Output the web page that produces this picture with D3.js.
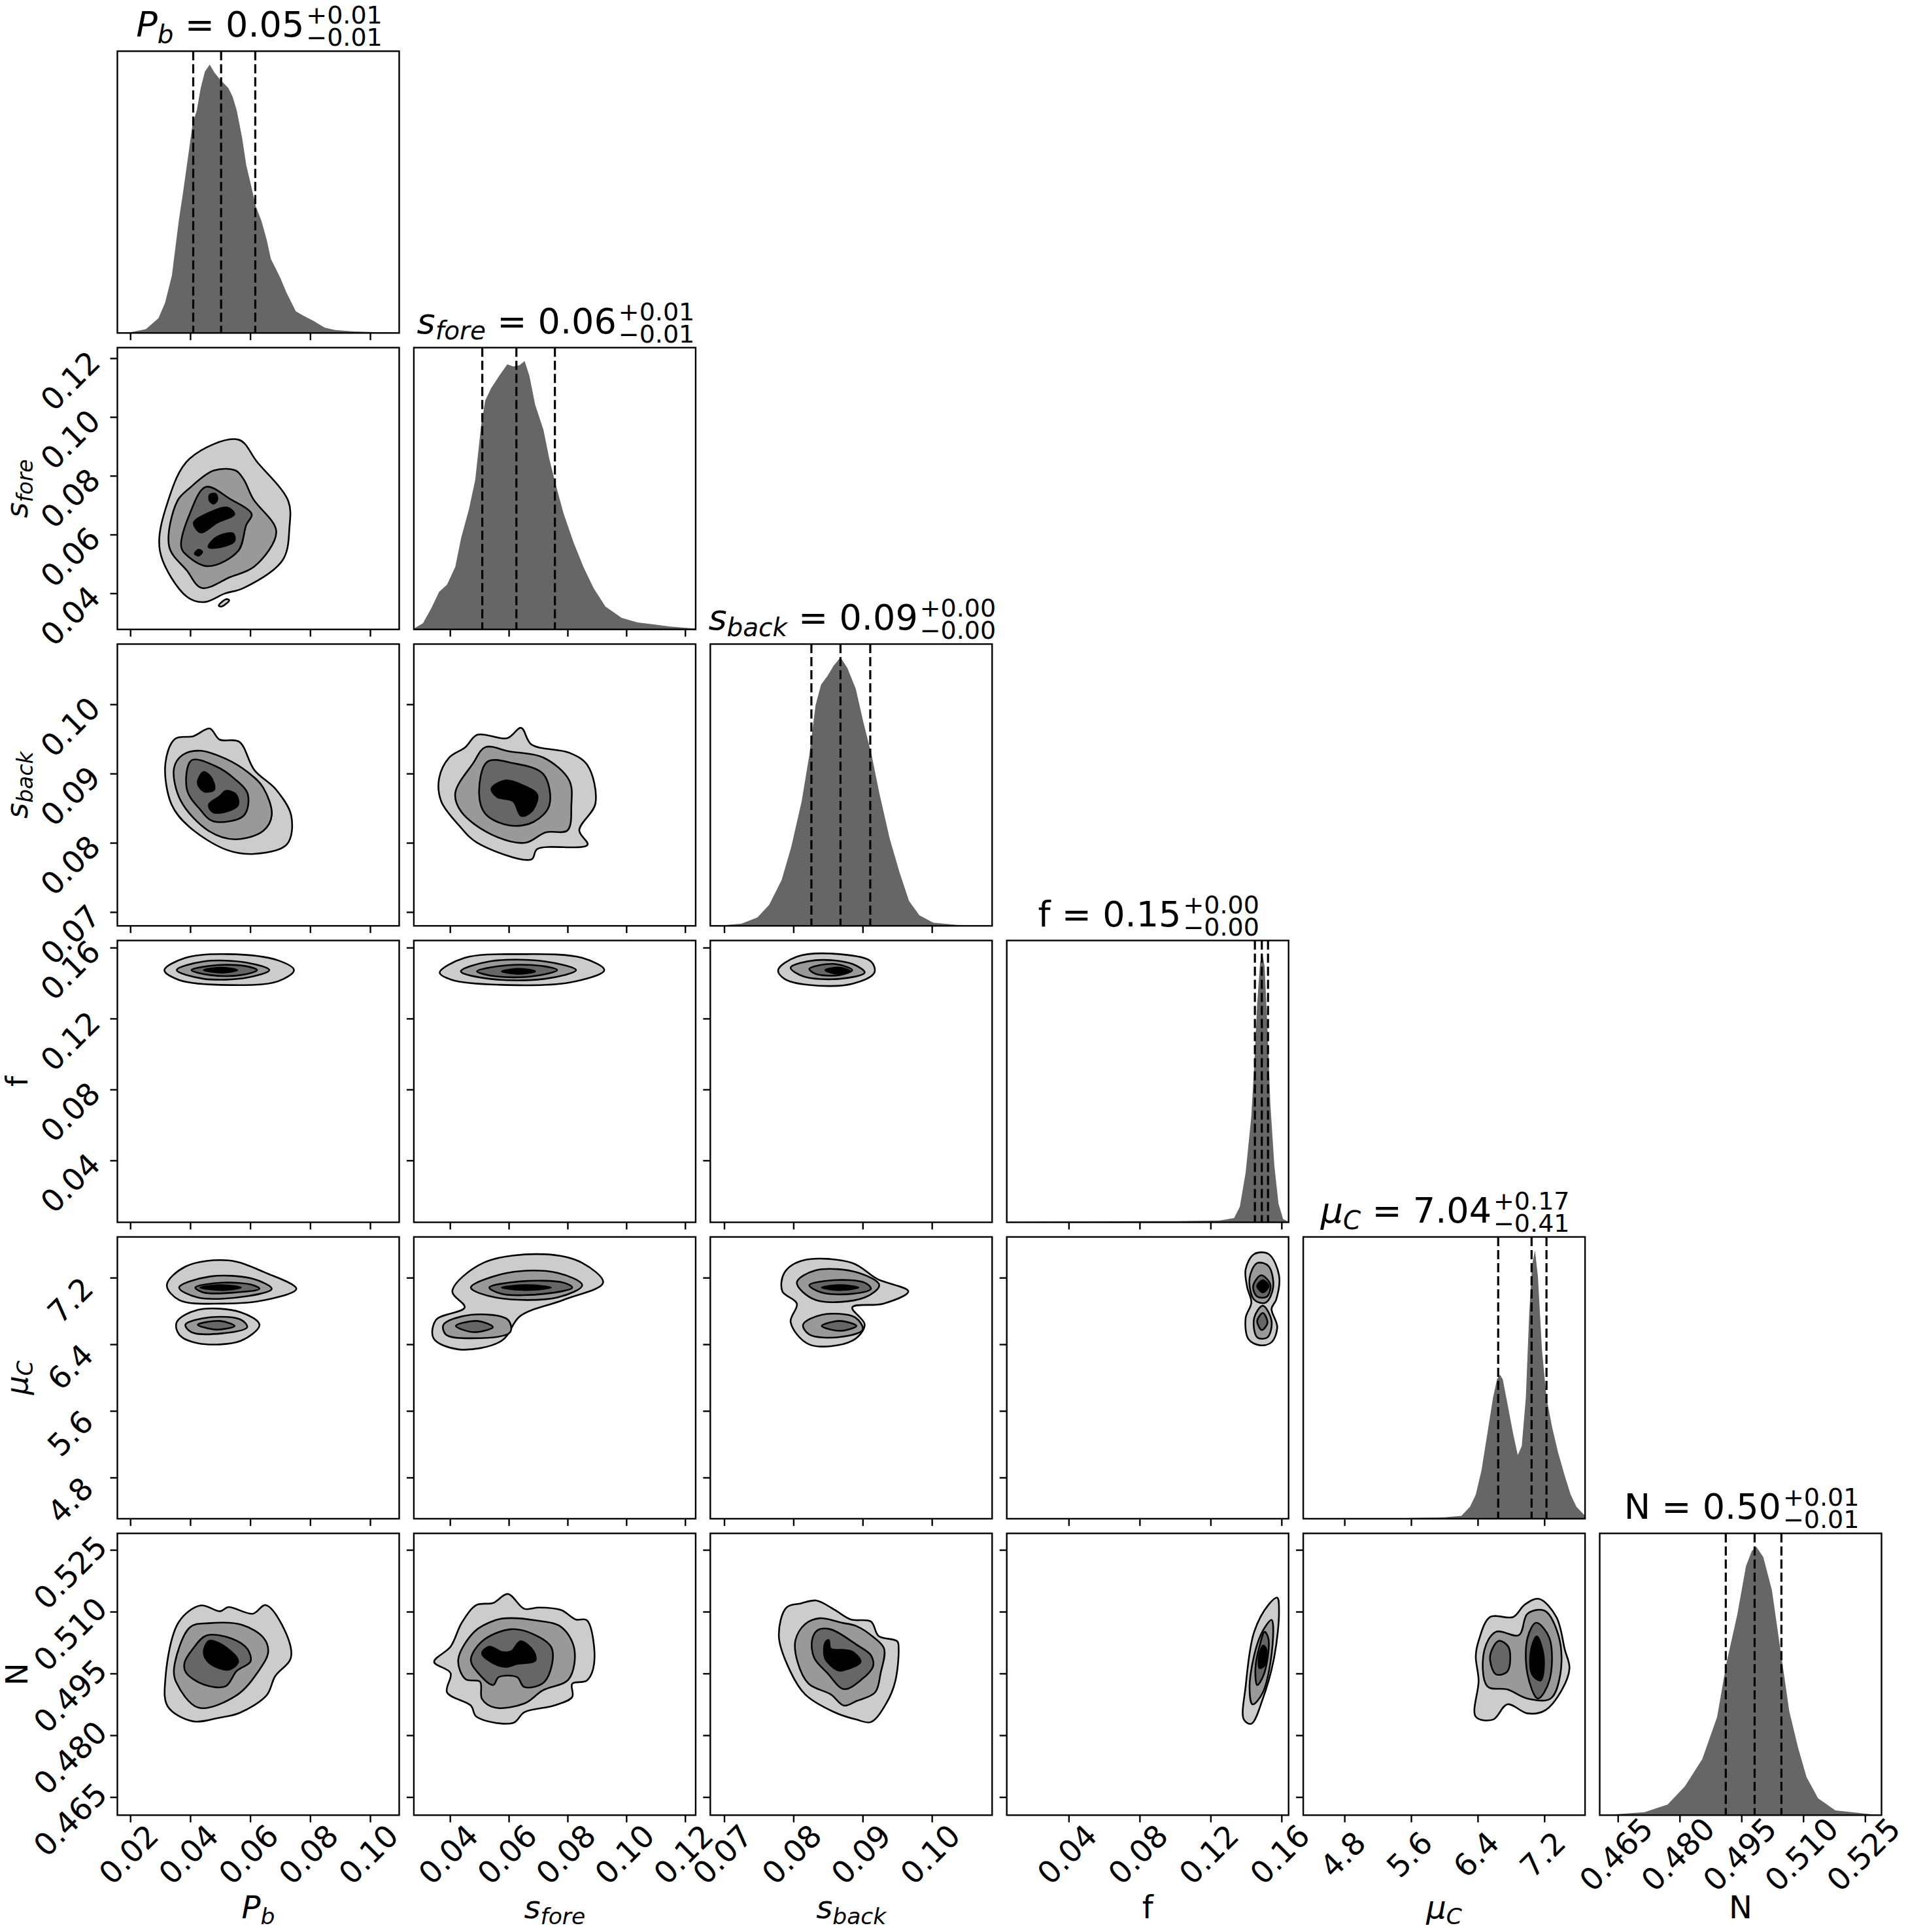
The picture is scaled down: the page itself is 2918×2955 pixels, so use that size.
<!DOCTYPE html>
<html><head><meta charset="utf-8">
<script src="https://cdn.jsdelivr.net/npm/d3@7"></script>
<style>body{margin:0;background:#fff}</style>
</head><body>
<script>
// ---------- parameters ----------
const paramNames = [["P","b"],["s","fore"],["s","back"],["f",""],["μ","C"],["N",""]];
const paramItalic = [true,true,true,false,true,false];
const paramDomains = [[0.0157,0.1097],[0.0277,0.1236],[0.0680,0.1087],[0.0051,0.1640],[4.305,7.689],[0.4606,0.5290]];
const paramTicks = [[0.02,0.04,0.06,0.08,0.10],[0.04,0.06,0.08,0.10,0.12],[0.07,0.08,0.09,0.10],[0.04,0.08,0.12,0.16],[4.8,5.6,6.4,7.2],[0.465,0.480,0.495,0.510,0.525]];
const tickDecimals = [2,2,2,2,1,3];
const titleValues = ["0.05","0.06","0.09","0.15","7.04","0.50"];
const titlePlus = ["+0.01","+0.01","+0.00","+0.00","+0.17","+0.01"];
const titleMinus = ["−0.01","−0.01","−0.00","−0.00","−0.41","−0.01"];
const quantiles = [[0.0410,0.0503,0.0617],[0.0510,0.0626,0.0757],[0.0826,0.0868,0.0911],[0.1450,0.1489,0.1524],[6.646,7.047,7.226],[0.4912,0.4982,0.5047]];

// ---------- 1D marginals (x, height as % of peak) ----------
const histPbX=[0.0157,0.0197,0.0252,0.0294,0.0316,0.0339,0.0362,0.0376,0.0394,0.0408,0.0422,0.0435,0.0449,0.0465,0.0481,0.0500,0.0527,0.0541,0.0555,0.0573,0.0587,0.0600,0.0619,0.0637,0.0655,0.0669,0.0683,0.0701,0.0720,0.0752,0.0775,0.0811,0.0848,0.0884,0.0939,0.1013,0.1097];
const histPbY=[0,0.2,1.4,5.5,11.2,21.5,42,52.3,66.6,78,83,91.3,97.4,100,97,94.4,91.3,88.2,83,72.8,62.5,56.4,47.1,42,34.8,27.6,24.5,20.4,15.3,8.1,6.6,4.5,2,1.1,0.6,0.3,0];
const histSforeX=[0.0277,0.0308,0.0336,0.0363,0.0390,0.0418,0.0438,0.0465,0.0486,0.0506,0.0520,0.0540,0.0568,0.0595,0.0615,0.0636,0.0654,0.0670,0.0690,0.0718,0.0738,0.0759,0.0786,0.0820,0.0854,0.0888,0.0929,0.0984,0.1038,0.1093,0.1147,0.1202,0.1236];
const histSforeY=[0.3,2.3,7.8,14,16.7,23.3,34.1,45,55.8,76,85.3,89.9,94.6,98.8,98,98.4,100,94.6,83.7,74.4,63.6,54.3,43.4,32.6,23.3,15.5,8.5,4.3,2.6,1.9,1.1,0.6,0.3];
const histSbackX=[0.0680,0.0699,0.0725,0.0748,0.0765,0.0783,0.0797,0.0812,0.0823,0.0832,0.0840,0.0849,0.0858,0.0868,0.0878,0.0890,0.0901,0.0913,0.0924,0.0939,0.0953,0.0967,0.0982,0.1002,0.1037,0.1087];
const histSbackY=[0,0.2,0.8,3.1,7.8,17.1,29.5,46.5,63.6,82.2,89.9,93,96.9,100,96.1,88.4,76,63.6,49.6,32.6,20.2,9.3,3.9,1.2,0.3,0];
const histFX=[0.0051,0.0343,0.0830,0.0992,0.1252,0.1333,0.1365,0.1398,0.1430,0.1446,0.1463,0.1479,0.1492,0.1505,0.1521,0.1537,0.1560,0.1583,0.1609,0.1640];
const histFY=[0.1,0.3,0.4,0.4,0.7,1.6,5.8,18.6,39.5,58.1,81.4,96.5,100,95.3,72.1,44.2,20.9,7,1.2,0.2];
const histMuX=[4.305,5.514,5.997,6.204,6.308,6.377,6.446,6.515,6.584,6.632,6.667,6.701,6.757,6.826,6.881,6.929,6.978,7.019,7.054,7.088,7.123,7.171,7.226,7.295,7.364,7.447,7.516,7.585,7.689];
const histMuY=[0,0.2,0.5,1.1,4.5,9,18.1,31.6,45.1,51.9,53.7,51.9,42.9,31.6,23.7,27.1,45.1,76.7,94.8,100,90.3,63.2,45.1,33.9,24.8,15.8,9,4.5,1.1];
const histNX=[0.4606,0.4631,0.4715,0.4771,0.4813,0.4855,0.4891,0.4914,0.4940,0.4961,0.4975,0.4986,0.5003,0.5024,0.5045,0.5066,0.5087,0.5108,0.5136,0.5178,0.5262,0.5290];
const histNY=[0,0.2,1.1,4,10.8,20.9,36.6,56.9,74.8,92.8,98.4,100,96.2,83.8,61.3,38.9,25.4,14.2,6.3,1.8,0.4,0];
const histX=[histPbX,histSforeX,histSbackX,histFX,histMuX,histNX];
const histY=[histPbY,histSforeY,histSbackY,histFY,histMuY,histNY];

// ---------- 2D contours: levels (outer->inner), each a list of closed polygons in data units ----------
const contPbSfore=[
 [[[.0560,.0923],[.0623,.0847],[.0727,.0714],[.0731,.0625],[.0709,.0514],[.0578,.0418],[.0515,.0399],[.0447,.0370],[.0389,.0388],[.0299,.0544],[.0326,.0714],[.0398,.0858]],[[.0495,.0358],[.0520,.0380],[.0530,.0376],[.0505,.0355]]],
 [[[.0479,.0818],[.0551,.0818],[.0578,.0788],[.0610,.0721],[.0687,.0610],[.0615,.0492],[.0533,.0455],[.0438,.0418],[.0389,.0477],[.0330,.0558],[.0357,.0714],[.0398,.0758]]],
 [[[.0452,.0762],[.0533,.0721],[.0605,.0669],[.0587,.0633],[.0560,.0544],[.0461,.0492],[.0389,.0529],[.0370,.0558],[.0398,.0669]]],
 [[[.0465,.0735],[.0485,.0738],[.0490,.0718],[.0478,.0705],[.0465,.0715]],[[.0412,.0640],[.0452,.0669],[.0524,.0692],[.0547,.0669],[.0489,.0640],[.0435,.0607]],[[.0461,.0558],[.0489,.0592],[.0543,.0603],[.0547,.0577],[.0489,.0555]],[[.0415,.0535],[.0428,.0548],[.0440,.0541],[.0428,.0528]]]
];
const contPbSback=[
 [[[.0317,.0914],[.0349,.0950],[.0411,.0954],[.0465,.0965],[.0498,.0949],[.0563,.0946],[.0614,.0905],[.0686,.0877],[.0737,.0839],[.0723,.0798],[.0614,.0784],[.0520,.0790],[.0397,.0823],[.0338,.0855]]],
 [[[.0346,.0908],[.0375,.0927],[.0433,.0933],[.0520,.0921],[.0592,.0902],[.0643,.0880],[.0672,.0840],[.0643,.0817],[.0549,.0805],[.0462,.0817],[.0368,.0861]]],
 [[[.0404,.0919],[.0483,.0911],[.0549,.0892],[.0592,.0870],[.0578,.0839],[.0477,.0831],[.0433,.0848],[.0389,.0877]]],
 [[[.0425,.0886],[.0444,.0902],[.0469,.0895],[.0480,.0877],[.0447,.0874]],[[.0462,.0855],[.0498,.0867],[.0520,.0875],[.0552,.0870],[.0560,.0855],[.0534,.0847],[.0476,.0844]]]
];
const contPbF=[
 [[[.0314,.1473],[.0384,.1542],[.0528,.1563],[.0693,.1528],[.0746,.1473],[.0693,.1410],[.0528,.1389],[.0363,.1417]]],
 [[[.0355,.1473],[.0445,.1522],[.0590,.1515],[.0664,.1473],[.0590,.1431],[.0445,.1424]]],
 [[[.0404,.1473],[.0487,.1501],[.0590,.1494],[.0623,.1473],[.0569,.1445],[.0466,.1445]]],
 [[[.0445,.1473],[.0507,.1487],[.0557,.1473],[.0507,.1459]]]
];
const contPbMu=[
 [[[.0322,7.110],[.0384,7.333],[.0528,7.407],[.0651,7.259],[.0754,7.066],[.0651,6.932],[.0507,6.888],[.0363,6.932]],[[.0355,6.665],[.0425,6.813],[.0569,6.784],[.0631,6.635],[.0569,6.442],[.0425,6.413],[.0363,6.517]]],
 [[[.0363,7.081],[.0466,7.214],[.0610,7.185],[.0672,7.066],[.0590,6.977],[.0425,6.962]],[[.0384,6.635],[.0466,6.724],[.0569,6.695],[.0590,6.606],[.0507,6.531],[.0404,6.546]]],
 [[[.0417,7.081],[.0507,7.140],[.0610,7.110],[.0631,7.066],[.0548,7.021],[.0445,7.021]],[[.0425,6.635],[.0499,6.680],[.0548,6.620],[.0487,6.576]]],
 [[[.0433,7.081],[.0507,7.110],[.0569,7.081],[.0507,7.051]]]
];
const contPbN=[
 [[[.0317,.4936],[.0362,.5075],[.0435,.5115],[.0500,.5101],[.0527,.5111],[.0609,.5095],[.0651,.5116],[.0706,.5068],[.0736,.4989],[.0683,.4943],[.0655,.4897],[.0564,.4854],[.0500,.4843],[.0408,.4834],[.0325,.4870]]],
 [[[.0346,.4962],[.0399,.5062],[.0463,.5072],[.0573,.5068],[.0646,.5035],[.0660,.5002],[.0628,.4956],[.0555,.4897],[.0427,.4867],[.0353,.4929]]],
 [[[.0381,.4976],[.0408,.5009],[.0454,.5042],[.0537,.5035],[.0591,.5009],[.0601,.4979],[.0555,.4956],[.0518,.4919],[.0445,.4923],[.0385,.4953]]],
 [[[.0445,.5002],[.0463,.5029],[.0500,.5022],[.0555,.4989],[.0559,.4976],[.0527,.4959],[.0463,.4976]]]
];
const contSforeSback=[
 [[[.0363,.0893],[.0397,.0923],[.0452,.0938],[.0493,.0956],[.0595,.0951],[.0642,.0966],[.0677,.0942],[.0806,.0930],[.0868,.0912],[.0895,.0857],[.0840,.0818],[.0868,.0797],[.0697,.0791],[.0677,.0776],[.0493,.0800],[.0431,.0825],[.0370,.0860]]],
 [[[.0418,.0872],[.0479,.0915],[.0520,.0938],[.0602,.0932],[.0718,.0923],[.0806,.0890],[.0813,.0854],[.0800,.0818],[.0725,.0815],[.0656,.0800],[.0541,.0812],[.0438,.0845]]],
 [[[.0499,.0872],[.0527,.0917],[.0615,.0915],[.0718,.0899],[.0738,.0854],[.0684,.0830],[.0602,.0825],[.0520,.0842]]],
 [[[.0541,.0878],[.0588,.0890],[.0642,.0884],[.0697,.0869],[.0677,.0845],[.0642,.0839],[.0615,.0860],[.0561,.0866]]]
];
const contSforeF=[
 [[[.0365,.1459],[.0450,.1542],[.0639,.1563],[.0850,.1542],[.0925,.1473],[.0807,.1403],[.0597,.1389],[.0408,.1417]]],
 [[[.0437,.1466],[.0534,.1522],[.0723,.1522],[.0829,.1473],[.0723,.1424],[.0534,.1424]]],
 [[[.0492,.1466],[.0597,.1501],[.0723,.1494],[.0765,.1473],[.0681,.1438],[.0555,.1438]]],
 [[[.0576,.1466],[.0639,.1480],[.0690,.1466],[.0639,.1452]]]
];
const contSforeMu=[
 [[[.0408,7.036],[.0513,7.377],[.0723,7.481],[.0850,7.377],[.0921,7.140],[.0786,6.932],[.0639,6.739],[.0576,6.442],[.0429,6.339],[.0344,6.472],[.0353,6.695],[.0450,6.843]]],
 [[[.0471,7.081],[.0597,7.259],[.0765,7.259],[.0850,7.110],[.0765,6.962],[.0555,6.962]],[[.0378,6.635],[.0471,6.754],[.0597,6.695],[.0605,6.546],[.0471,6.472],[.0386,6.517]]],
 [[[.0534,7.081],[.0639,7.155],[.0786,7.140],[.0816,7.081],[.0723,7.006],[.0576,7.006]],[[.0420,6.620],[.0492,6.680],[.0546,6.606],[.0479,6.546]]],
 [[[.0576,7.081],[.0660,7.110],[.0744,7.081],[.0660,7.051]]]
];
const contSforeN=[
 [[[.0346,.4978],[.0402,.5015],[.0440,.5073],[.0490,.5116],[.0547,.5121],[.0597,.5143],[.0653,.5107],[.0703,.5110],[.0778,.5104],[.0828,.5081],[.0866,.5079],[.0891,.4978],[.0866,.4933],[.0816,.4925],[.0816,.4893],[.0753,.4872],[.0653,.4856],[.0615,.4830],[.0490,.4845],[.0471,.4872],[.0390,.4904],[.0402,.4951]]],
 [[[.0428,.4983],[.0484,.5052],[.0553,.5079],[.0590,.5084],[.0690,.5079],[.0778,.5063],[.0823,.5010],[.0804,.4936],[.0716,.4909],[.0653,.4877],[.0553,.4867],[.0509,.4888],[.0502,.4930],[.0453,.4936]]],
 [[[.0471,.4983],[.0509,.5028],[.0603,.5057],[.0678,.5047],[.0747,.5010],[.0722,.4930],[.0653,.4917],[.0628,.4941],[.0566,.4941],[.0547,.4922],[.0496,.4951]]],
 [[[.0509,.4999],[.0534,.5015],[.0578,.5002],[.0609,.5004],[.0640,.5028],[.0684,.5004],[.0690,.4981],[.0628,.4973],[.0590,.4966],[.0547,.4975]]]
];
const contSbackF=[
 [[[.0778,.1473],[.0805,.1549],[.0867,.1563],[.0912,.1522],[.0917,.1459],[.0885,.1396],[.0823,.1389],[.0787,.1424]]],
 [[[.0796,.1487],[.0832,.1529],[.0885,.1508],[.0903,.1459],[.0867,.1424],[.0814,.1438]]],
 [[[.0823,.1480],[.0858,.1508],[.0885,.1473],[.0867,.1445],[.0832,.1452]]],
 [[[.0846,.1473],[.0867,.1487],[.0882,.1466],[.0864,.1452]]]
];
const contSbackMu=[
 [[[.0787,7.259],[.0814,7.407],[.0885,7.377],[.0921,7.185],[.0966,7.036],[.0930,6.888],[.0885,6.843],[.0903,6.635],[.0885,6.442],[.0823,6.398],[.0796,6.665],[.0805,6.888],[.0784,7.036]]],
 [[[.0805,7.140],[.0832,7.288],[.0894,7.259],[.0924,7.110],[.0903,6.962],[.0832,6.932]],[[.0814,6.635],[.0841,6.754],[.0889,6.724],[.0900,6.576],[.0867,6.487],[.0823,6.517]]],
 [[[.0823,7.110],[.0858,7.170],[.0903,7.140],[.0912,7.066],[.0885,7.006],[.0841,7.021]],[[.0841,6.620],[.0867,6.680],[.0891,6.620],[.0867,6.561]]],
 [[[.0841,7.081],[.0867,7.110],[.0894,7.081],[.0867,7.051]]]
];
const contSbackN=[
 [[[.0779,.5041],[.0790,.5110],[.0811,.5120],[.0833,.5127],[.0859,.5105],[.0883,.5081],[.0912,.5076],[.0923,.5041],[.0950,.5028],[.0952,.5010],[.0947,.4930],[.0934,.4877],[.0912,.4832],[.0891,.4838],[.0859,.4856],[.0817,.4899],[.0795,.4957]]],
 [[[.0803,.5031],[.0817,.5070],[.0838,.5084],[.0870,.5073],[.0891,.5065],[.0915,.5039],[.0931,.5010],[.0926,.4951],[.0918,.4904],[.0891,.4883],[.0873,.4872],[.0854,.4899],[.0822,.4925],[.0806,.4978]]],
 [[[.0827,.5031],[.0835,.5055],[.0854,.5057],[.0891,.5020],[.0912,.4994],[.0915,.4967],[.0899,.4936],[.0873,.4912],[.0849,.4951],[.0830,.4988]]],
 [[[.0846,.5025],[.0851,.5031],[.0854,.5010],[.0873,.5007],[.0886,.5002],[.0897,.4978],[.0875,.4959],[.0865,.4957],[.0846,.4986]]]
];
const contFMu=[
 [[[.1398,7.302],[.1446,7.484],[.1527,7.484],[.1586,7.229],[.1570,6.936],[.1544,6.827],[.1576,6.607],[.1544,6.425],[.1479,6.388],[.1414,6.461],[.1398,6.717],[.1430,6.900],[.1407,7.082]]],
 [[[.1420,7.192],[.1463,7.375],[.1527,7.338],[.1553,7.082],[.1511,6.900],[.1446,6.936]],[[.1446,6.717],[.1495,6.863],[.1544,6.680],[.1521,6.483],[.1463,6.483]]],
 [[[.1440,7.097],[.1485,7.229],[.1537,7.119],[.1518,6.973],[.1463,6.973]],[[.1463,6.680],[.1495,6.775],[.1521,6.658],[.1489,6.571]]],
 [[[.1463,7.097],[.1495,7.170],[.1527,7.097],[.1495,7.024]]]
];
const contFN=[
 [[[.1527,.5117],[.1576,.5134],[.1586,.5102],[.1560,.4992],[.1495,.4889],[.1430,.4828],[.1388,.4838],[.1398,.4919],[.1446,.5051]]],
 [[[.1511,.5065],[.1544,.5080],[.1550,.5021],[.1495,.4904],[.1437,.4875],[.1420,.4919],[.1463,.5021]]],
 [[[.1505,.5051],[.1527,.5033],[.1501,.4948],[.1463,.4922],[.1453,.4963],[.1479,.5021]]],
 [[[.1498,.5018],[.1514,.5009],[.1505,.4970],[.1476,.4963],[.1476,.4999]]]
];
const contMuN=[
 [[[6.411,.5029],[6.549,.5087],[6.826,.5087],[6.964,.5117],[7.136,.5131],[7.344,.5087],[7.447,.5007],[7.502,.4963],[7.413,.4911],[7.206,.4860],[6.998,.4853],[6.757,.4875],[6.584,.4838],[6.377,.4845],[6.411,.4933],[6.377,.4992]]],
 [[[6.480,.5007],[6.619,.5051],[6.895,.5043],[6.998,.5095],[7.206,.5102],[7.378,.5036],[7.392,.4948],[7.275,.4889],[6.998,.4889],[6.757,.4911],[6.515,.4919]]],
 [[[6.549,.4992],[6.653,.5029],[6.770,.5014],[6.757,.4955],[6.619,.4948]],[[6.998,.5036],[7.102,.5073],[7.261,.5036],[7.261,.4933],[7.123,.4889],[6.998,.4948]]],
 [[[7.040,.5007],[7.109,.5040],[7.192,.4992],[7.157,.4933],[7.053,.4948]]]
];
const contours = {"0-1":contPbSfore,"0-2":contPbSback,"0-3":contPbF,"0-4":contPbMu,"0-5":contPbN,
 "1-2":contSforeSback,"1-3":contSforeF,"1-4":contSforeMu,"1-5":contSforeN,"2-3":contSbackF,"2-4":contSbackMu,"2-5":contSbackN,
 "3-4":contFMu,"3-5":contFN,"4-5":contMuN};
const levelFills = ["#cccccc","#999999","#666666","#000000"];
</script>
<script>
const W=2918,H=2955, L0=179.5, T0=78.3, P=453.4, S=431;
const svg=d3.select("body").append("svg").attr("width",W).attr("height",H).style("font-family","DejaVu Sans");
const xs = paramDomains.map(d=>d3.scaleLinear().domain(d).range([0,S]));
const ys = paramDomains.map(d=>d3.scaleLinear().domain(d).range([S,0]));
const n=6, tickFs=47, fmt=i=>d3.format("."+tickDecimals[i]+"f");

function nameText(sel, i, fs){
  const [a,b]=paramNames[i];
  const t=sel.append("tspan").text(a).attr("font-size",fs);
  if(paramItalic[i]) t.attr("font-style","italic");
  if(b){ sel.append("tspan").text(b).attr("font-size",fs*0.72).attr("font-style","italic").attr("dy",fs*0.18); }
}

for(let r=0;r<n;r++) for(let c=0;c<=r;c++){
  const g=svg.append("g").attr("transform",`translate(${L0+c*P},${T0+r*P})`);
  const x=xs[c];
  if(r===c){
    const y=d3.scaleLinear().domain([0,105]).range([S,0]);
    const pts=histX[c].map((v,k)=>[v,histY[c][k]]);
    g.append("path").datum(pts).attr("fill","#666666")
      .attr("d",d3.area().x(d=>x(d[0])).y0(S).y1(d=>y(d[1])));
    quantiles[c].forEach(q=>g.append("line").attr("x1",x(q)).attr("x2",x(q)).attr("y1",0).attr("y2",S)
      .attr("stroke","#000").attr("stroke-width",3.2).attr("stroke-dasharray","14,6"));
    const tt=svg.append("text").attr("y",T0+r*P-22).attr("font-size",54).attr("fill","#000");
    nameText(tt,c,54);
    tt.append("tspan").text(" = "+titleValues[c]).attr("dy",paramNames[c][1]?-54*0.18:0);
    const wMain=tt.node().getComputedTextLength();
    const sp=svg.append("text").attr("font-size",38).attr("y",T0+r*P-42).text(titlePlus[c]);
    const sm=svg.append("text").attr("font-size",38).attr("y",T0+r*P-8).text(titleMinus[c]);
    const wS=Math.max(sp.node().getComputedTextLength(),sm.node().getComputedTextLength());
    const x0=L0+c*P+S/2-(wMain+wS)/2;
    tt.attr("x",x0); sp.attr("x",x0+wMain+3); sm.attr("x",x0+wMain+3);
  } else {
    const y=ys[r];
    const levels=contours[c+"-"+r];
    const clip="clip"+c+r;
    g.append("clipPath").attr("id",clip).append("rect").attr("width",S).attr("height",S);
    const cg=g.append("g").attr("clip-path",`url(#${clip})`);
    const line=d3.line().x(d=>x(d[0])).y(d=>y(d[1])).curve(d3.curveCatmullRomClosed.alpha(0.5));
    levels.forEach((lev,li)=>lev.forEach(poly=>cg.append("path").attr("d",line(poly))
      .attr("fill",levelFills[li]).attr("stroke","#000").attr("stroke-width",2.6)));
    const ya=g.append("g").call(d3.axisLeft(y).tickValues(paramTicks[r]).tickSize(11).tickFormat(c===0?fmt(r):""));
    ya.select(".domain").remove();
    ya.selectAll("line").attr("stroke-width",2.4);
    ya.selectAll("text").attr("font-size",tickFs).attr("font-family","DejaVu Sans")
      .attr("text-anchor","middle").attr("x",null).attr("dy",null).attr("dominant-baseline","central")
      .attr("transform","translate(-72,34) rotate(-45)");
  }
  const xa=g.append("g").attr("transform",`translate(0,${S})`)
    .call(d3.axisBottom(x).tickValues(paramTicks[c]).tickSize(11).tickFormat(r===n-1?fmt(c):""));
  xa.select(".domain").remove();
  xa.selectAll("line").attr("stroke-width",2.4);
  xa.selectAll("text").attr("font-size",tickFs).attr("font-family","DejaVu Sans")
    .attr("text-anchor","middle").attr("y",null).attr("dy",null).attr("dominant-baseline","central")
    .attr("transform","translate(-3,60) rotate(-45)");
  g.append("rect").attr("width",S).attr("height",S).attr("fill","none").attr("stroke","#000").attr("stroke-width",2.4);
}
for(let c=0;c<n;c++){
  const t=svg.append("text").attr("x",L0+c*P+S/2).attr("y",2934).attr("text-anchor","middle").attr("font-size",48);
  nameText(t,c,48);
}
for(let r=1;r<n;r++){
  const cy=T0+r*P+S/2;
  const t=svg.append("text").attr("transform",`translate(42,${cy}) rotate(-90)`).attr("text-anchor","middle").attr("font-size",46);
  nameText(t,r,46);
}
</script>
</body></html>
